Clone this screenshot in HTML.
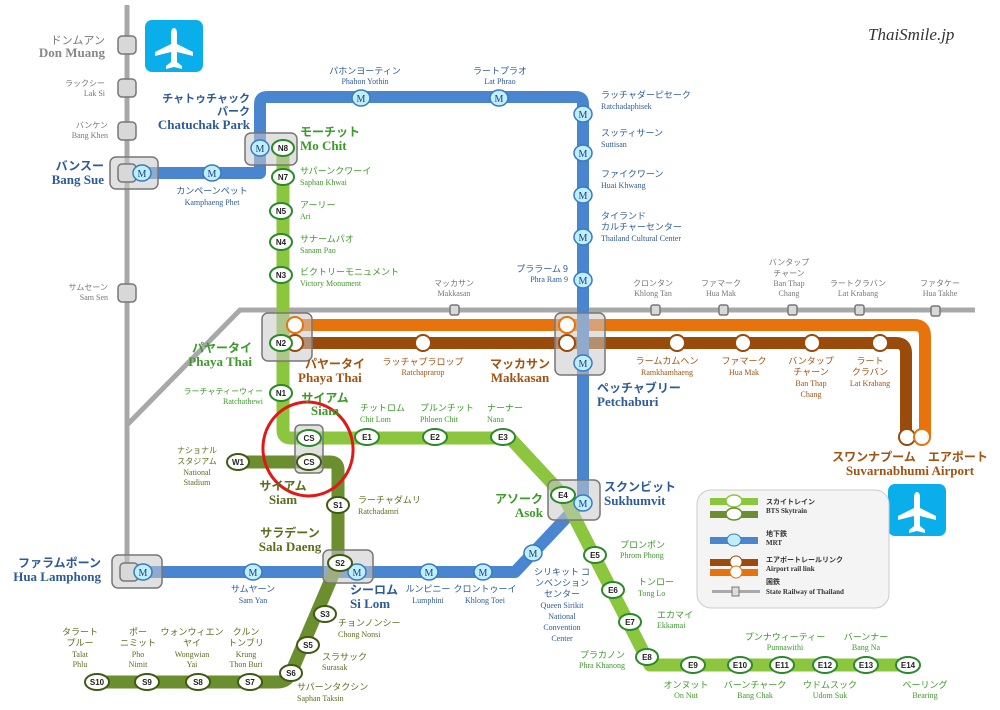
<!DOCTYPE html>
<html><head><meta charset="utf-8"><style>
html,body{margin:0;padding:0;background:#fff;}
svg{display:block;font-family:"Liberation Serif","Noto Serif CJK SC","Noto Sans CJK JP",serif;}
.jp{font-family:"Noto Sans CJK JP","Liberation Sans",sans-serif;}
.sm{font-size:9px}.xs{font-size:8px}
.big{font-size:13px;font-weight:bold}
.b{fill:#2d5b9a}.g{fill:#3c9a2a}.dg{fill:#5a6e1e}.br{fill:#a4520f}.gr{fill:#777}
.code{font-size:8px;font-weight:bold;fill:#222;text-anchor:middle;font-family:"Liberation Sans",sans-serif}
.mt{font-size:10px;fill:#1a3f7a;text-anchor:middle}
</style></head><body>
<svg width="1000" height="710" viewBox="0 0 1000 710" xmlns="http://www.w3.org/2000/svg">
<rect width="1000" height="710" fill="#fff"/>
<!-- railway -->
<g stroke="#a8a8a8" stroke-width="5" fill="none">
<path d="M127 5 V565"/>
<path d="M127 425 L240 310 H975"/>
</g>
<g fill="#d8d8d8" stroke="#777" stroke-width="1.5">
<rect x="118" y="36" width="18" height="18" rx="4"/>
<rect x="118" y="79" width="18" height="18" rx="4"/>
<rect x="118" y="122" width="18" height="18" rx="4"/>
<rect x="118" y="284" width="18" height="18" rx="4"/>
<rect x="450" y="305" width="9" height="10" rx="2"/>
<rect x="651" y="305" width="9" height="10" rx="2"/>
<rect x="719" y="305" width="9" height="10" rx="2"/>
<rect x="788" y="305" width="9" height="10" rx="2"/>
<rect x="855" y="305" width="9" height="10" rx="2"/>
<rect x="931" y="306" width="9" height="10" rx="2"/>
</g>
<!-- airport link -->
<path d="M295 325 H914 Q925 325 925 336 V437" stroke="#e8720c" stroke-width="12" fill="none"/>
<path d="M295 343 H896 Q906 343 906 353 V437" stroke="#9a4a0a" stroke-width="12" fill="none"/>
<!-- MRT -->
<path d="M140 173 H260 V104 Q260 97 267 97 H576 Q583 97 583 104 V500 L515 572 H140" stroke="#4a86d0" stroke-width="12" fill="none" stroke-linejoin="round"/>
<!-- Silom -->
<path d="M238 462 H330 Q338 462 338 470 V563 L291 673 Q287 682 278 682 H97" stroke="#6b8e2e" stroke-width="13" fill="none" stroke-linejoin="round"/>
<!-- Sukhumvit -->
<path d="M283 148 V430 Q283 438 291 438 H510 L563 495 L650 665 H908" stroke="#8cc63f" stroke-width="13" fill="none" stroke-linejoin="round"/>
<!-- interchange boxes -->
<g fill="rgba(200,200,200,0.55)" stroke="#777" stroke-width="1.5">
<rect x="110" y="157" width="48" height="32" rx="6"/>
<rect x="245" y="133" width="52" height="32" rx="6"/>
<rect x="262" y="313" width="50" height="48" rx="6"/>
<rect x="555" y="313" width="50" height="62" rx="6"/>
<rect x="295" y="425" width="28" height="48" rx="5"/>
<rect x="548" y="480" width="52" height="40" rx="6"/>
<rect x="112" y="555" width="50" height="33" rx="6"/>
<rect x="323" y="550" width="50" height="33" rx="6"/>
</g>
<rect x="118" y="164" width="18" height="18" rx="4" fill="#d8d8d8" stroke="#777" stroke-width="1.5"/>
<rect x="120" y="563" width="18" height="18" rx="4" fill="#d8d8d8" stroke="#777" stroke-width="1.5"/>
<!-- airport stations -->
<g fill="#fff" stroke-width="2">
<circle cx="295" cy="325" r="8" stroke="#e8720c"/>
<circle cx="295" cy="343" r="8" stroke="#9a4a0a"/>
<circle cx="423" cy="343" r="8" stroke="#9a4a0a"/>
<circle cx="567" cy="325" r="8" stroke="#e8720c"/>
<circle cx="567" cy="343" r="8" stroke="#9a4a0a"/>
<circle cx="677" cy="343" r="8" stroke="#9a4a0a"/>
<circle cx="743" cy="343" r="8" stroke="#9a4a0a"/>
<circle cx="812" cy="343" r="8" stroke="#9a4a0a"/>
<circle cx="880" cy="343" r="8" stroke="#9a4a0a"/>
<circle cx="907" cy="437" r="8" stroke="#9a4a0a"/>
<circle cx="922" cy="437" r="8" stroke="#e8720c"/>
</g>
<!-- MRT stations -->
<g>
<g fill="#bfefff" stroke="#3a7ac0" stroke-width="1.5">
<ellipse cx="142" cy="173" rx="9" ry="8"/><ellipse cx="212" cy="173" rx="9" ry="8"/>
<ellipse cx="260" cy="148" rx="9" ry="8"/><ellipse cx="361" cy="98" rx="9" ry="8"/>
<ellipse cx="499" cy="98" rx="9" ry="8"/><ellipse cx="583" cy="114" rx="9" ry="8"/>
<ellipse cx="583" cy="153" rx="9" ry="8"/><ellipse cx="583" cy="195" rx="9" ry="8"/>
<ellipse cx="583" cy="237" rx="9" ry="8"/><ellipse cx="583" cy="280" rx="9" ry="8"/>
<ellipse cx="583" cy="363" rx="9" ry="8"/><ellipse cx="583" cy="503" rx="9" ry="8"/>
<ellipse cx="533" cy="553" rx="9" ry="8"/><ellipse cx="483" cy="572" rx="9" ry="8"/>
<ellipse cx="429" cy="572" rx="9" ry="8"/><ellipse cx="357" cy="572" rx="9" ry="8"/>
<ellipse cx="253" cy="572" rx="9" ry="8"/><ellipse cx="143" cy="572" rx="9" ry="8"/>
</g>
<g class="mt">
<text x="142" y="177">M</text><text x="212" y="177">M</text><text x="260" y="152">M</text>
<text x="361" y="102">M</text><text x="499" y="102">M</text><text x="583" y="118">M</text>
<text x="583" y="157">M</text><text x="583" y="199">M</text><text x="583" y="241">M</text>
<text x="583" y="284">M</text><text x="583" y="367">M</text><text x="583" y="507">M</text>
<text x="533" y="557">M</text><text x="483" y="576">M</text><text x="429" y="576">M</text>
<text x="357" y="576">M</text><text x="253" y="576">M</text><text x="143" y="576">M</text>
</g>
</g>
<!-- BTS stations -->
<g fill="#fff" stroke="#2a8a2a" stroke-width="2">
<ellipse cx="283" cy="148" rx="11" ry="8"/><ellipse cx="283" cy="177" rx="11" ry="8"/>
<ellipse cx="281" cy="211" rx="11" ry="8"/><ellipse cx="281" cy="242" rx="11" ry="8"/>
<ellipse cx="281" cy="275" rx="11" ry="8"/><ellipse cx="281" cy="343" rx="11" ry="8"/>
<ellipse cx="281" cy="393" rx="11" ry="8"/><ellipse cx="309" cy="438" rx="12" ry="8"/>
<ellipse cx="367" cy="437" rx="12" ry="8"/><ellipse cx="435" cy="437" rx="12" ry="8"/>
<ellipse cx="503" cy="437" rx="12" ry="8"/><ellipse cx="563" cy="495" rx="12" ry="8"/>
<ellipse cx="595" cy="555" rx="11" ry="8"/><ellipse cx="613" cy="590" rx="11" ry="8"/>
<ellipse cx="630" cy="622" rx="11" ry="8"/><ellipse cx="647" cy="657" rx="11" ry="8"/>
<ellipse cx="693" cy="665" rx="12" ry="8"/><ellipse cx="740" cy="665" rx="12" ry="8"/>
<ellipse cx="782" cy="665" rx="12" ry="8"/><ellipse cx="825" cy="665" rx="12" ry="8"/>
<ellipse cx="866" cy="665" rx="12" ry="8"/><ellipse cx="908" cy="665" rx="12" ry="8"/>
</g>
<g fill="#fff" stroke="#3f5a14" stroke-width="2">
<ellipse cx="238" cy="462" rx="11" ry="8"/><ellipse cx="309" cy="462" rx="12" ry="8"/>
<ellipse cx="338" cy="505" rx="11" ry="8"/><ellipse cx="340" cy="563" rx="12" ry="8"/>
<ellipse cx="325" cy="614" rx="11" ry="8"/><ellipse cx="308" cy="645" rx="11" ry="8"/>
<ellipse cx="291" cy="673" rx="11" ry="8"/><ellipse cx="250" cy="682" rx="12" ry="8"/>
<ellipse cx="198" cy="682" rx="12" ry="8"/><ellipse cx="147" cy="682" rx="12" ry="8"/>
<ellipse cx="97" cy="682" rx="12" ry="8"/>
</g>
<g class="code">
<text x="283" y="151">N8</text><text x="283" y="180">N7</text><text x="281" y="214">N5</text>
<text x="281" y="245">N4</text><text x="281" y="278">N3</text><text x="281" y="346">N2</text>
<text x="281" y="396">N1</text><text x="309" y="441">CS</text><text x="367" y="440">E1</text>
<text x="435" y="440">E2</text><text x="503" y="440">E3</text><text x="563" y="498">E4</text>
<text x="595" y="558">E5</text><text x="613" y="593">E6</text><text x="630" y="625">E7</text>
<text x="647" y="660">E8</text><text x="693" y="668">E9</text><text x="740" y="668">E10</text>
<text x="782" y="668">E11</text><text x="825" y="668">E12</text><text x="866" y="668">E13</text>
<text x="908" y="668">E14</text>
<text x="238" y="465">W1</text><text x="309" y="465">CS</text><text x="338" y="508">S1</text>
<text x="340" y="566">S2</text><text x="325" y="617">S3</text><text x="308" y="648">S5</text>
<text x="291" y="676">S6</text><text x="250" y="685">S7</text><text x="198" y="685">S8</text>
<text x="147" y="685">S9</text><text x="97" y="685">S10</text>
</g>
<!-- airplane icons -->
<g>
<rect x="145" y="20" width="58" height="52" rx="7" fill="#0aaeea"/>
<path d="M174 28 q3 0 3 6 v10 l16 8 v4 l-16-4 v10 l5 4 v3 l-8-2 -8 2 v-3 l5-4 v-10 l-16 4 v-4 l16-8 v-10 q0-6 3-6z" fill="#fff"/>
<rect x="888" y="484" width="58" height="52" rx="7" fill="#0aaeea"/>
<path d="M917 492 q3 0 3 6 v10 l16 8 v4 l-16-4 v10 l5 4 v3 l-8-2 -8 2 v-3 l5-4 v-10 l-16 4 v-4 l16-8 v-10 q0-6 3-6z" fill="#fff"/>
</g>
<!-- red circle -->
<ellipse cx="308" cy="449" rx="45" ry="47" fill="none" stroke="#e01818" stroke-width="3" transform="rotate(-10 308 449)"/>
<!-- legend -->
<rect x="697" y="490" width="192" height="118" rx="14" fill="#f4f4f4" stroke="#ccc" stroke-width="1"/>
<g>
<rect x="710" y="498" width="48" height="7" fill="#8cc63f"/><ellipse cx="734" cy="501" rx="8" ry="6" fill="#fff" stroke="#8cc63f" stroke-width="1.5"/>
<rect x="710" y="511" width="48" height="7" fill="#6b8e2e"/><ellipse cx="734" cy="514" rx="8" ry="6" fill="#fff" stroke="#6b8e2e" stroke-width="1.5"/>
<rect x="710" y="537" width="48" height="7" fill="#4a86d0"/><ellipse cx="734" cy="540" rx="7" ry="6" fill="#bfefff" stroke="#3a7ac0"/>
<rect x="710" y="559" width="48" height="7" fill="#9a4a0a"/><circle cx="736" cy="562" r="6" fill="#fff" stroke="#9a4a0a"/>
<rect x="710" y="569" width="48" height="7" fill="#e8720c"/><circle cx="736" cy="572" r="6" fill="#fff" stroke="#e8720c"/>
<rect x="712" y="590" width="48" height="3" fill="#aaa"/><rect x="732" y="587" width="7" height="9" fill="#ddd" stroke="#777"/>
<g font-size="7" font-weight="bold" fill="#333">
<text x="766" y="504" class="jp">スカイトレイン</text><text x="766" y="513">BTS Skytrain</text>
<text x="766" y="536" class="jp">地下鉄</text><text x="766" y="545">MRT</text>
<text x="766" y="562" class="jp">エアポートレールリンク</text><text x="766" y="571">Airport rail link</text>
<text x="766" y="584" class="jp">国鉄</text><text x="766" y="594">State Railway of Thailand</text>
</g>
</g>
<text x="868" y="40" font-size="17" font-style="italic" fill="#333" font-family="Liberation Serif,serif">ThaiSmile.jp</text>
<!-- labels: railway -->
<g class="gr" text-anchor="end">
<text x="105" y="44" class="jp" font-size="11">ドンムアン</text><text x="105" y="57" class="big" fill="#888">Don Muang</text>
<text x="105" y="86" class="jp xs">ラックシー</text><text x="105" y="96" class="xs">Lak Si</text>
<text x="108" y="128" class="jp xs">バンケン</text><text x="108" y="138" class="xs">Bang Khen</text>
<text x="108" y="290" class="jp xs">サムセーン</text><text x="108" y="300" class="xs">Sam Sen</text>
</g>
<g class="gr" text-anchor="middle">
<text x="454" y="286" class="jp xs">マッカサン</text><text x="454" y="296" class="xs">Makkasan</text>
<text x="653" y="286" class="jp xs">クロンタン</text><text x="653" y="296" class="xs">Khlong Tan</text>
<text x="721" y="286" class="jp xs">ファマーク</text><text x="721" y="296" class="xs">Hua Mak</text>
<text x="789" y="265" class="jp xs">バンタップ</text><text x="789" y="276" class="jp xs">チャーン</text><text x="789" y="286" class="xs">Ban Thap</text><text x="789" y="296" class="xs">Chang</text>
<text x="858" y="286" class="jp xs">ラートクラバン</text><text x="858" y="296" class="xs">Lat Krabang</text>
<text x="940" y="286" class="jp xs">ファタケー</text><text x="940" y="296" class="xs">Hua Takhe</text>
</g>
<!-- MRT labels -->
<g class="b">
<text x="104" y="170" text-anchor="end" class="jp" font-size="12" font-weight="bold">バンスー</text>
<text x="104" y="184" text-anchor="end" class="big">Bang Sue</text>
<text x="250" y="102" text-anchor="end" class="jp" font-size="11" font-weight="bold">チャトゥチャック</text>
<text x="250" y="115" text-anchor="end" class="jp" font-size="11" font-weight="bold">パーク</text>
<text x="250" y="129" text-anchor="end" class="big">Chatuchak Park</text>
<text x="212" y="194" text-anchor="middle" class="jp sm">カンペーンペット</text><text x="212" y="205" text-anchor="middle" class="xs">Kamphaeng Phet</text>
<text x="365" y="74" text-anchor="middle" class="jp sm">パホンヨーティン</text><text x="365" y="84" text-anchor="middle" class="xs">Phahon Yothin</text>
<text x="500" y="74" text-anchor="middle" class="jp sm">ラートプラオ</text><text x="500" y="84" text-anchor="middle" class="xs">Lat Phrao</text>
<text x="601" y="98" class="jp sm">ラッチャダーピセーク</text><text x="601" y="109" class="xs">Ratchadaphisek</text>
<text x="601" y="136" class="jp sm">スッティサーン</text><text x="601" y="147" class="xs">Suttisan</text>
<text x="601" y="177" class="jp sm">ファイクワーン</text><text x="601" y="188" class="xs">Huai Khwang</text>
<text x="601" y="219" class="jp sm">タイランド</text><text x="601" y="230" class="jp sm">カルチャーセンター</text><text x="601" y="241" class="xs">Thailand Cultural Center</text>
<text x="568" y="272" text-anchor="end" class="jp sm">プララーム 9</text><text x="568" y="282" text-anchor="end" class="xs">Phra Ram 9</text>
<text x="597" y="392" class="jp" font-size="12" font-weight="bold">ペッチャブリー</text><text x="597" y="406" class="big">Petchaburi</text>
<text x="604" y="491" class="jp" font-size="12" font-weight="bold">スクンビット</text><text x="604" y="505" class="big">Sukhumvit</text>
<text x="101" y="567" text-anchor="end" class="jp" font-size="12" font-weight="bold">ファラムポーン</text><text x="101" y="581" text-anchor="end" class="big">Hua Lamphong</text>
<text x="253" y="592" text-anchor="middle" class="jp sm">サムヤーン</text><text x="253" y="603" text-anchor="middle" class="xs">Sam Yan</text>
<text x="350" y="594" class="jp" font-size="12" font-weight="bold">シーロム</text><text x="350" y="608" class="big">Si Lom</text>
<text x="428" y="592" text-anchor="middle" class="jp sm">ルンピニー</text><text x="428" y="603" text-anchor="middle" class="xs">Lumphini</text>
<text x="485" y="592" text-anchor="middle" class="jp sm">クロントゥーイ</text><text x="485" y="603" text-anchor="middle" class="xs">Khlong Toei</text>
<g text-anchor="middle"><text x="562" y="575" class="jp sm">シリキット コ</text><text x="562" y="586" class="jp sm">ンベンション</text><text x="562" y="597" class="jp sm">センター</text><text x="562" y="608" class="xs">Queen Sirikit</text><text x="562" y="619" class="xs">National</text><text x="562" y="630" class="xs">Convention</text><text x="562" y="641" class="xs">Center</text></g>
</g>
<!-- BTS labels -->
<g class="g">
<text x="300" y="136" class="jp" font-size="12" font-weight="bold">モーチット</text><text x="300" y="150" class="big">Mo Chit</text>
<text x="300" y="174" class="jp sm">サパーンクワーイ</text><text x="300" y="185" class="xs">Saphan Khwai</text>
<text x="300" y="208" class="jp sm">アーリー</text><text x="300" y="219" class="xs">Ari</text>
<text x="300" y="242" class="jp sm">サナームパオ</text><text x="300" y="253" class="xs">Sanam Pao</text>
<text x="300" y="275" class="jp sm">ビクトリーモニュメント</text><text x="300" y="286" class="xs">Victory Monument</text>
<text x="252" y="352" text-anchor="end" class="jp" font-size="12" font-weight="bold">パヤータイ</text><text x="252" y="366" text-anchor="end" class="big">Phaya Thai</text>
<text x="263" y="394" text-anchor="end" class="jp xs">ラーチャティーウィー</text><text x="263" y="404" text-anchor="end" class="xs">Ratchathewi</text>
<text x="325" y="402" text-anchor="middle" class="jp" font-size="12" font-weight="bold">サイアム</text><text x="325" y="415" text-anchor="middle" class="big">Siam</text>
<text x="360" y="411" class="jp sm">チットロム</text><text x="360" y="422" class="xs">Chit Lom</text>
<text x="420" y="411" class="jp sm">プルンチット</text><text x="420" y="422" class="xs">Phloen Chit</text>
<text x="487" y="411" class="jp sm">ナーナー</text><text x="487" y="422" class="xs">Nana</text>
<text x="543" y="503" text-anchor="end" class="jp" font-size="12" font-weight="bold">アソーク</text><text x="543" y="517" text-anchor="end" class="big">Asok</text>
<text x="620" y="548" class="jp sm">プロンポン</text><text x="620" y="558" class="xs">Phrom Phong</text>
<text x="638" y="585" class="jp sm">トンロー</text><text x="638" y="596" class="xs">Tong Lo</text>
<text x="657" y="618" class="jp sm">エカマイ</text><text x="657" y="628" class="xs">Ekkamai</text>
<text x="625" y="658" text-anchor="end" class="jp sm">プラカノン</text><text x="625" y="668" text-anchor="end" class="xs">Phra Khanong</text>
<text x="686" y="688" text-anchor="middle" class="jp sm">オンヌット</text><text x="686" y="698" text-anchor="middle" class="xs">On Nut</text>
<text x="755" y="688" text-anchor="middle" class="jp sm">バーンチャーク</text><text x="755" y="698" text-anchor="middle" class="xs">Bang Chak</text>
<text x="785" y="640" text-anchor="middle" class="jp sm">プンナウィーティー</text><text x="785" y="650" text-anchor="middle" class="xs">Punnawithi</text>
<text x="830" y="688" text-anchor="middle" class="jp sm">ウドムスック</text><text x="830" y="698" text-anchor="middle" class="xs">Udom Suk</text>
<text x="866" y="640" text-anchor="middle" class="jp sm">バーンナー</text><text x="866" y="650" text-anchor="middle" class="xs">Bang Na</text>
<text x="925" y="688" text-anchor="middle" class="jp sm">ベーリング</text><text x="925" y="698" text-anchor="middle" class="xs">Bearing</text>
</g>
<g class="dg">
<g text-anchor="middle"><text x="197" y="453" class="jp xs">ナショナル</text><text x="197" y="464" class="jp xs">スタジアム</text><text x="197" y="475" class="xs">National</text><text x="197" y="485" class="xs">Stadium</text></g>
<text x="283" y="490" text-anchor="middle" class="jp" font-size="12" font-weight="bold">サイアム</text><text x="283" y="504" text-anchor="middle" class="big">Siam</text>
<text x="358" y="503" class="jp sm">ラーチャダムリ</text><text x="358" y="514" class="xs">Ratchadamri</text>
<text x="290" y="537" text-anchor="middle" class="jp" font-size="12" font-weight="bold">サラデーン</text><text x="290" y="551" text-anchor="middle" class="big">Sala Daeng</text>
<text x="338" y="626" class="jp sm">チョンノンシー</text><text x="338" y="637" class="xs">Chong Nonsi</text>
<text x="322" y="660" class="jp sm">スラサック</text><text x="322" y="670" class="xs">Surasak</text>
<text x="297" y="690" class="jp sm">サパーンタクシン</text><text x="297" y="701" class="xs">Saphan Taksin</text>
<g text-anchor="middle">
<text x="80" y="635" class="jp sm">タラート</text><text x="80" y="646" class="jp sm">プルー</text><text x="80" y="657" class="xs">Talat</text><text x="80" y="667" class="xs">Phlu</text>
<text x="138" y="635" class="jp sm">ポー</text><text x="138" y="646" class="jp sm">ニミット</text><text x="138" y="657" class="xs">Pho</text><text x="138" y="667" class="xs">Nimit</text>
<text x="192" y="635" class="jp sm">ウォンウィエン</text><text x="192" y="646" class="jp sm">ヤイ</text><text x="192" y="657" class="xs">Wongwian</text><text x="192" y="667" class="xs">Yai</text>
<text x="246" y="635" class="jp sm">クルン</text><text x="246" y="646" class="jp sm">トンブリ</text><text x="246" y="657" class="xs">Krung</text><text x="246" y="667" class="xs">Thon Buri</text>
</g>
</g>
<!-- airport labels -->
<g class="br">
<text x="305" y="368" class="jp" font-size="12" font-weight="bold">パヤータイ</text><text x="298" y="382" class="big">Phaya Thai</text>
<text x="423" y="365" text-anchor="middle" class="jp sm">ラッチャプラロップ</text><text x="423" y="375" text-anchor="middle" class="xs">Ratchaprarop</text>
<text x="520" y="368" text-anchor="middle" class="jp" font-size="12" font-weight="bold">マッカサン</text><text x="520" y="382" text-anchor="middle" class="big">Makkasan</text>
<text x="667" y="364" text-anchor="middle" class="jp sm">ラームカムヘン</text><text x="667" y="375" text-anchor="middle" class="xs">Ramkhamhaeng</text>
<text x="744" y="364" text-anchor="middle" class="jp sm">ファマーク</text><text x="744" y="375" text-anchor="middle" class="xs">Hua Mak</text>
<text x="811" y="364" text-anchor="middle" class="jp sm">バンタップ</text><text x="811" y="375" text-anchor="middle" class="jp sm">チャーン</text><text x="811" y="386" text-anchor="middle" class="xs">Ban Thap</text><text x="811" y="397" text-anchor="middle" class="xs">Chang</text>
<text x="870" y="364" text-anchor="middle" class="jp sm">ラート</text><text x="870" y="375" text-anchor="middle" class="jp sm">クラバン</text><text x="870" y="386" text-anchor="middle" class="xs">Lat Krabang</text>
<text x="910" y="461" text-anchor="middle" class="jp" font-size="12" font-weight="bold">スワンナプーム　エアポート</text>
<text x="910" y="475" text-anchor="middle" class="big">Suvarnabhumi Airport</text>
</g>
</svg>
</body></html>
